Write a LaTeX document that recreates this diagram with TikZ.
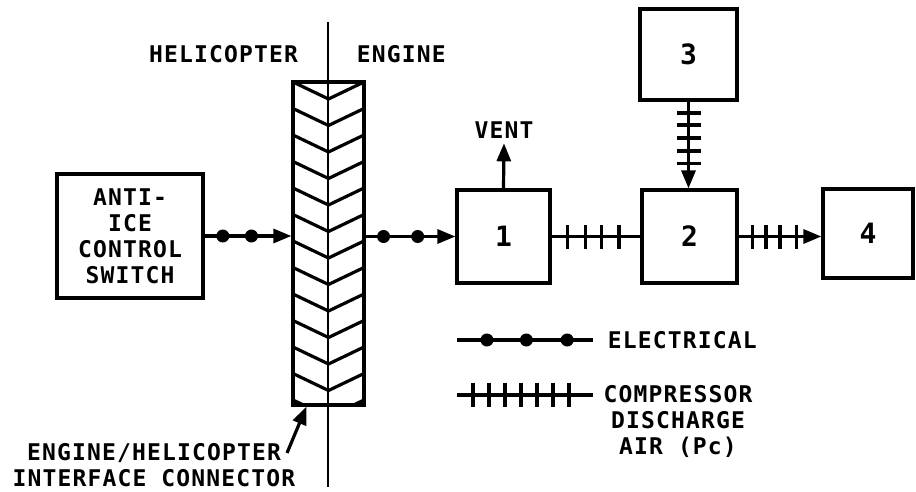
\documentclass[tikz,border=0pt]{standalone}
\usepackage{fontspec}
\newfontfamily\lettering[LetterSpace=5]{DejaVu Sans Mono}
\usetikzlibrary{arrows.meta,positioning}

\begin{document}
\begin{tikzpicture}[x=1pt,y=-1pt,line width=3.2pt,
  font=\lettering\bfseries\fontsize{23}{26}\selectfont,
  box/.style={draw, inner sep=0pt},
  num/.style={font=\lettering\bfseries\fontsize{28}{30}\selectfont},
  dot/.style={circle, fill, inner sep=0pt, minimum size=13pt},
  tick/.style={fill, inner sep=0pt, minimum width=3.4pt, minimum height=24pt, sloped},
  arr/.style={-{Triangle[length=18pt,width=14pt]}}]
\useasboundingbox (0,0) rectangle (916,492);

% Helicopter / engine split
\coordinate (divtop) at (328,22);
\coordinate (divbot) at (328,487);
\draw[line width=2.6pt] (divtop) -- (divbot);
\node (heli) at (223.5,54) {HELICOPTER};
\node[anchor=west] (eng) at (352,54) {ENGINE};

% Interface connector
\node[box, fill=white, minimum width=71pt, minimum height=323pt] (conn) at (328.5,243.5) {};
\begin{scope}
\clip (conn.south west) rectangle (conn.north east);
\foreach \y in {82,108.5,...,420}
  \draw (293,\y) -- (328.5,\y+17) -- (364,\y);
\draw[line width=2.6pt] (328,82) -- (328,405);
\end{scope}
\node[box, minimum width=71pt, minimum height=323pt] at (conn) {};
\node[align=center] (ifc) at (154,465) {ENGINE/HELICOPTER\\INTERFACE CONNECTOR};
\coordinate (ifctail) at (287,453);
\draw[arr] (ifctail) -- ([xshift=15pt]conn.south west);

% Boxes
\node[box, align=center, minimum width=146pt, minimum height=124pt] (switch) at (130,236) {ANTI-\\ICE\\CONTROL\\SWITCH};
\node[box, num, minimum width=93pt, minimum height=93pt] (b1) at (503.5,236.5) {1};
\node[box, num, minimum width=95pt, minimum height=93pt] (b2) at (689.5,236.5) {2};
\node[box, num, minimum width=97pt, minimum height=91pt] (b3) at (688.5,54.5) {3};
\node[box, num, minimum width=90pt, minimum height=89pt] (b4) at (868,233.5) {4};
\node (vent) at (504,130) {VENT};

% Electrical lines
\draw[arr] (switch.east) -- (switch.east -| conn.west)
  foreach \p in {0.21,0.54} {node[dot,pos=\p]{}};
\draw[arr] (conn.east |- b1.west) -- (b1.west)
  foreach \p in {0.2,0.58} {node[dot,pos=\p]{}};

% Compressor air lines
\draw (b1.east) -- (b2.west)
  foreach \p in {0.18,0.38,0.56,0.76} {node[tick,pos=\p]{}};
\draw[arr] (b2.east) -- (b2.east -| b4.west)
  foreach \p in {0.17,0.33,0.5,0.7} {node[tick,pos=\p]{}};
\draw[arr] (b3.south) -- (b3.south |- b2.north)
  foreach \p in {0.13,0.27,0.42,0.57,0.71} {node[tick,pos=\p]{}};
\draw[arr] (b1.north) -- (vent.south);

% Legend
\coordinate (elA) at (457,340);
\coordinate (elB) at (593,340);
\draw (elA) -- (elB) foreach \p in {0.22,0.51,0.81} {node[dot,pos=\p]{}};
\node[anchor=west] (elec) at (603,340) {ELECTRICAL};
\coordinate (pcA) at (457,395);
\coordinate (pcB) at (593,395);
\draw (pcA) -- (pcB)
  foreach \p in {0.118,0.235,0.353,0.471,0.588,0.706,0.824} {node[tick,pos=\p]{}};
\node[align=center] (pc) at (678,421) {COMPRESSOR\\DISCHARGE\\AIR (Pc)};
\end{tikzpicture}
\end{document}
